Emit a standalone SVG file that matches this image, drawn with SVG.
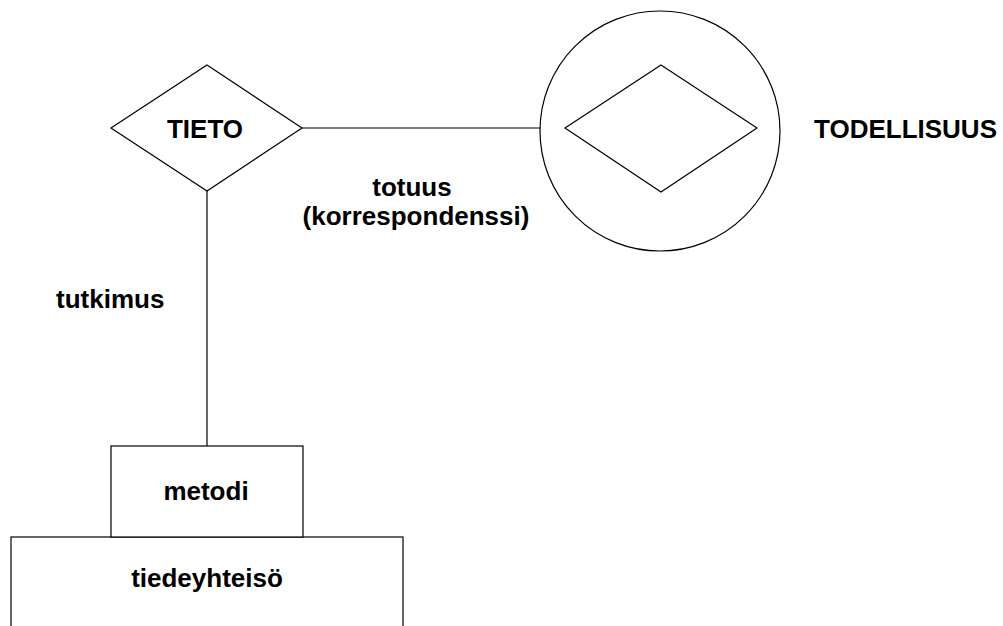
<svg xmlns="http://www.w3.org/2000/svg" width="1003" height="626" viewBox="0 0 1003 626">
<style>
.s{fill:#fff;stroke:#000;stroke-width:1.2}
.c{fill:none;stroke:#000;stroke-width:1.2}
.t{font-family:"Liberation Sans",Arial,sans-serif;font-weight:bold;font-size:26px;fill:#000}
.m{text-anchor:middle}
</style>
<rect width="1003" height="626" fill="#fff"/>
<g id="connectors">
<line class="c" x1="302" y1="128" x2="540" y2="128"/>
<line class="c" x1="207" y1="191" x2="207" y2="446"/>
</g>
<g id="tieto">
<polygon class="s" points="207,65 302,128 207,191 111,128"/>
<text class="t m" x="205" y="138">TIETO</text>
</g>
<g id="todellisuus">
<circle class="s" cx="660" cy="131" r="120"/>
<polygon class="s" points="661,65 757,128 661,192 565,128"/>
<text class="t" x="814" y="138">TODELLISUUS</text>
</g>
<g id="tiedeyhteiso">
<rect class="s" x="11" y="537" width="392" height="100"/>
<text class="t m" x="207" y="587">tiedeyhteisö</text>
</g>
<g id="metodi">
<rect class="s" x="111" y="446" width="192" height="91"/>
<text class="t m" x="206" y="500">metodi</text>
</g>
<g id="labels">
<text class="t" x="56" y="308">tutkimus</text>
<text class="t m" x="412" y="196">totuus</text>
<text class="t m" x="416" y="225">(korrespondenssi)</text>
</g>
</svg>
